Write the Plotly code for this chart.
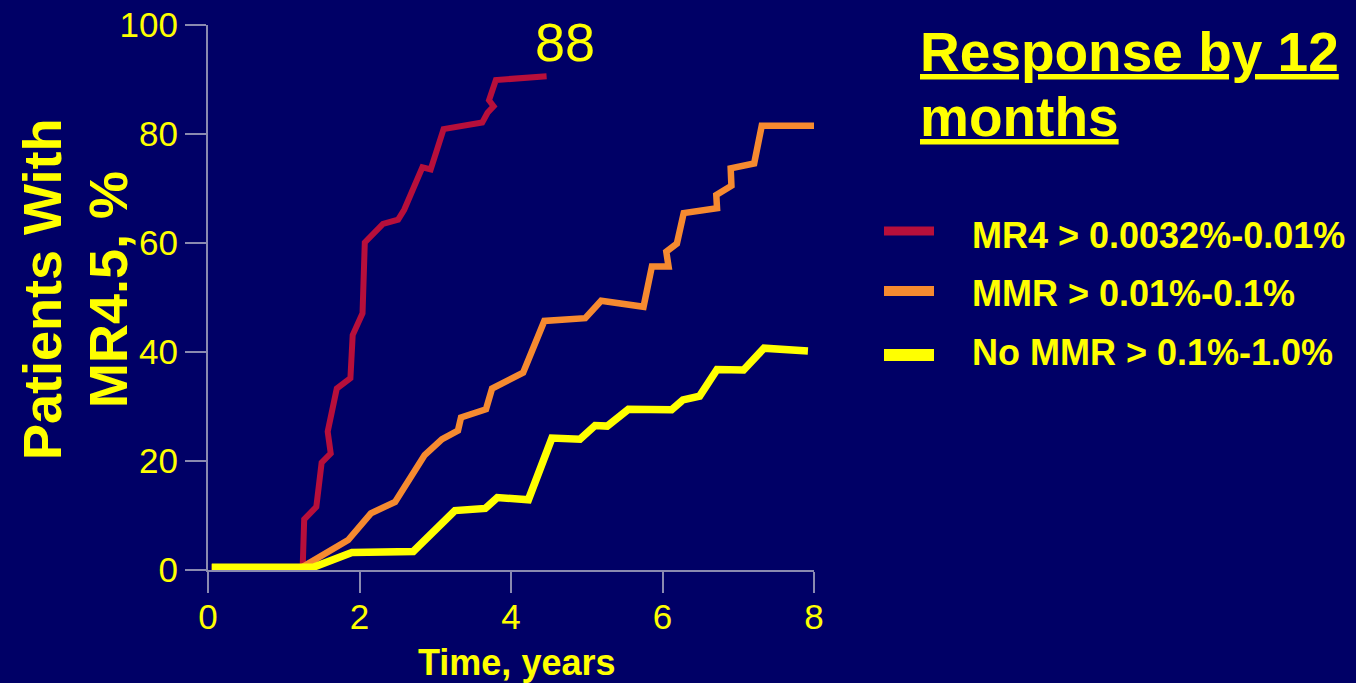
import plotly.graph_objects as go

# Cumulative response curves (time in years, % of patients with MR4.5)
red_t = [0.05, 1.25, 1.27, 1.43, 1.50, 1.62, 1.58, 1.70, 1.88, 1.91, 2.04, 2.07, 2.31, 2.51,
         2.59, 2.83, 2.94, 3.11, 3.62, 3.69, 3.77, 3.71, 3.80, 4.47]
red_v = [0.5, 0.5, 9.3, 11.6, 19.7, 21.4, 25.4, 33.3, 35.2, 43.1, 47.1, 60.1, 63.5, 64.3,
         66.1, 73.9, 73.5, 80.9, 82.1, 83.9, 85.1, 86.2, 89.9, 90.6]

orange_t = [0.05, 1.24, 1.85, 2.15, 2.47, 2.86, 3.09, 3.30, 3.34, 3.67, 3.75, 4.16, 4.44, 4.98,
            5.19, 5.75, 5.86, 6.08, 6.05, 6.19, 6.28, 6.72, 6.71, 6.91, 6.90, 7.21, 7.31, 8.0]
orange_v = [0.5, 0.5, 5.5, 10.4, 12.5, 21.1, 24.0, 25.6, 28.0, 29.5, 33.3, 36.2, 45.7, 46.2,
            49.4, 48.3, 55.7, 55.7, 58.4, 59.9, 65.5, 66.4, 68.8, 70.5, 73.7, 74.6, 81.5, 81.5]

yellow_t = [0.05, 1.39, 1.90, 2.71, 3.26, 3.66, 3.82, 4.23, 4.54, 4.91, 5.11, 5.27, 5.55, 6.12,
            6.27, 6.49, 6.72, 7.07, 7.34, 7.92]
yellow_v = [0.5, 0.5, 3.2, 3.4, 10.9, 11.3, 13.3, 12.9, 24.2, 24.0, 26.5, 26.4, 29.5, 29.4,
            31.2, 31.9, 36.8, 36.7, 40.7, 40.2]

series_names = ["MR4 > 0.0032%-0.01%", "MMR > 0.01%-0.1%", "No MMR > 0.1%-1.0%"]
series_colors = ["#B70F3B", "#F68A30", "#FFFF00"]
series_widths = [6, 6.5, 7.5]

x_ticks = [0, 2, 4, 6, 8]
y_ticks = [0, 20, 40, 60, 80, 100]
end_label = "88"

BG = "#000066"
TXT = "#FFFF00"
AXC = "#8A8AB0"
FONT = "Liberation Sans, Arial, sans-serif"

W, H = 1356, 683
L, R, T, B = 208, 542, 25, 113
PW, PH = W - L - R, H - T - B


def px(xp):
    return (xp - L) / PW


def py(yp):
    return (H - B - yp) / PH


fig = go.Figure()
for t, v, name, col, w in zip([red_t, orange_t, yellow_t], [red_v, orange_v, yellow_v],
                              series_names, series_colors, series_widths):
    fig.add_trace(go.Scatter(x=t, y=v, mode="lines", name=name,
                             line=dict(color=col, width=w), showlegend=False,
                             hoverinfo="skip"))

axis_common = dict(showline=True, linecolor=AXC, linewidth=2, ticks="outside",
                   ticklen=21, tickwidth=2, tickcolor=AXC, showgrid=False,
                   zeroline=False, automargin=False,
                   tickfont=dict(family=FONT, size=35, color=TXT))

fig.update_xaxes(range=[0, 8], tickvals=x_ticks, ticklabelstandoff=-6, **axis_common)
fig.update_yaxes(range=[0, 100], tickvals=y_ticks, **axis_common)

annotations = []
# axis titles
annotations.append(dict(text="<b>Time, years</b>", x=px(516), y=py(662), xref="paper",
                        yref="paper", showarrow=False, xanchor="center", yanchor="middle",
                        font=dict(family=FONT, size=36, color=TXT)))
annotations.append(dict(text="<b>Patients With</b>", x=px(42), y=py(289), xref="paper",
                        yref="paper", showarrow=False, xanchor="center", yanchor="middle",
                        textangle=-90, font=dict(family=FONT, size=54, color=TXT)))
annotations.append(dict(text="<b>MR4.5, %</b>", x=px(108), y=py(290), xref="paper",
                        yref="paper", showarrow=False, xanchor="center", yanchor="middle",
                        textangle=-90, font=dict(family=FONT, size=54, color=TXT)))
# value label above the top curve
annotations.append(dict(text=end_label, x=px(565), y=py(42), xref="paper", yref="paper",
                        showarrow=False, xanchor="center", yanchor="middle",
                        font=dict(family=FONT, size=54, color=TXT)))
# legend heading
annotations.append(dict(text="<b><u>Response by 12</u></b>", x=px(918), y=py(52),
                        xref="paper", yref="paper", showarrow=False, xanchor="left",
                        yanchor="middle", font=dict(family=FONT, size=55, color=TXT)))
annotations.append(dict(text="<b><u>months</u></b>", x=px(918), y=py(117),
                        xref="paper", yref="paper", showarrow=False, xanchor="left",
                        yanchor="middle", font=dict(family=FONT, size=55, color=TXT)))

shapes = []
legend_rows = [231, 291, 355]
legend_text_rows = [235, 293, 352]
swatch_widths = [9, 10, 12]
for yc, yt, name, col, sw in zip(legend_rows, legend_text_rows, series_names,
                                 series_colors, swatch_widths):
    shapes.append(dict(type="line", xref="paper", yref="paper", x0=px(884), x1=px(934),
                       y0=py(yc), y1=py(yc), line=dict(color=col, width=sw)))
    annotations.append(dict(text="<b>" + name + "</b>", x=px(970), y=py(yt), xref="paper",
                            yref="paper", showarrow=False, xanchor="left",
                            yanchor="middle", font=dict(family=FONT, size=36, color=TXT)))

fig.update_layout(width=W, height=H, margin=dict(l=L, r=R, t=T, b=B, pad=0),
                  paper_bgcolor=BG, plot_bgcolor=BG, annotations=annotations,
                  shapes=shapes, showlegend=False)

fig.write_html("out.html", config={"displayModeBar": False})
